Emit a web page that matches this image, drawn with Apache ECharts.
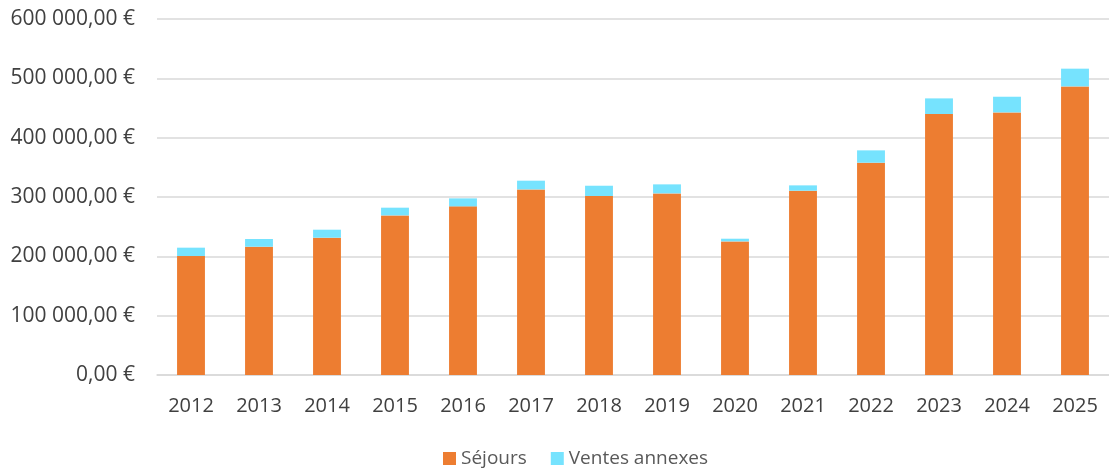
<!DOCTYPE html>
<html>
<head>
<meta charset="utf-8">
<script src="https://cdn.jsdelivr.net/npm/echarts@6/dist/echarts.min.js"></script>
<style>
  html, body { margin: 0; padding: 0; background: #fff; }
  #chart { width: 1109px; height: 472px; }
</style>
</head>
<body>
<div id="chart"></div>
<script>
// années
const years = ['2012', '2013', '2014', '2015', '2016', '2017', '2018', '2019', '2020', '2021', '2022', '2023', '2024', '2025']
// chiffre d'affaires séjours (€)
const sejours = [200500, 216200, 231400, 269000, 284200, 312800, 301700, 306100, 225200, 310600, 357800, 439900, 442600, 486400]
// ventes annexes (€)
const ventesAnnexes = [14100, 13000, 13500, 13000, 13500, 14700, 17300, 15200, 4500, 9000, 20800, 26300, 26400, 29900]
// graduations de l'axe
const yTicks = [0, 100000, 200000, 300000, 400000, 500000, 600000]

const font = '"Open Sans", "Liberation Sans", sans-serif'

// format monétaire français : 600 000,00 €
function euro (v) {
  const s = String(Math.round(v)).replace(/\B(?=(\d{3})+(?!\d))/g, ' ')
  return s + ',00 €'
}

const chart = echarts.init(document.getElementById('chart'))
chart.setOption({
  animation: false,
  grid: { left: 157, right: -3, top: 19, bottom: 97 },
  legend: {
    top: 444,
    left: 438,
    itemWidth: 13,
    itemHeight: 13,
    itemGap: 24,
    icon: 'rect',
    textStyle: { color: '#595959', fontSize: 19, fontFamily: font },
    data: ['Séjours', 'Ventes annexes']
  },
  xAxis: {
    type: 'category',
    data: years,
    axisTick: { show: false },
    axisLine: { lineStyle: { color: '#d9d9d9', width: 1.5 } },
    axisLabel: { color: '#404040', fontSize: 20, fontFamily: font, margin: 21 }
  },
  yAxis: {
    type: 'value',
    min: yTicks[0],
    max: yTicks[yTicks.length - 1],
    interval: 100000,
    axisLine: { show: false },
    axisTick: { show: false },
    splitLine: { lineStyle: { color: '#d9d9d9', width: 1.5 } },
    axisLabel: { color: '#404040', fontSize: 21, fontFamily: font, margin: 22, formatter: euro }
  },
  series: [
    {
      name: 'Séjours',
      type: 'bar',
      stack: 'ca',
      barWidth: '41%',
      data: sejours,
      itemStyle: { color: '#ed7d31' }
    },
    {
      name: 'Ventes annexes',
      type: 'bar',
      stack: 'ca',
      data: ventesAnnexes,
      itemStyle: { color: '#76e3fe' }
    }
  ]
})
</script>
</body>
</html>
